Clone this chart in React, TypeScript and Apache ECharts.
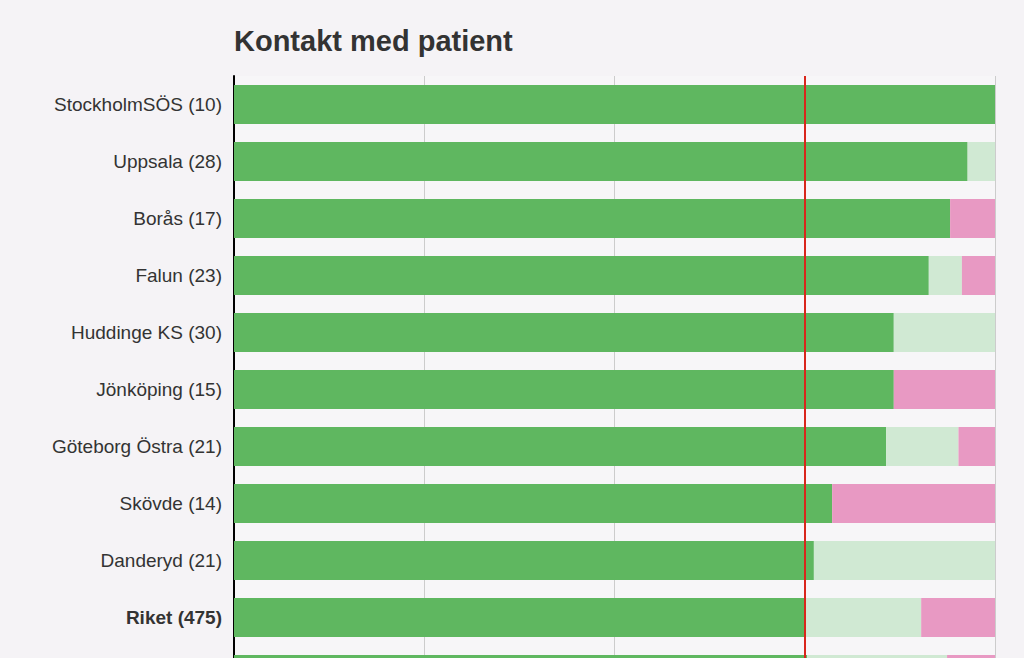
import React, { useEffect, useRef } from "react";
import * as echarts from "echarts";

const categories = [
  "StockholmSÖS (10)",
  "Uppsala (28)",
  "Borås (17)",
  "Falun (23)",
  "Huddinge KS (30)",
  "Jönköping (15)",
  "Göteborg Östra (21)",
  "Skövde (14)",
  "Danderyd (21)",
  "Riket (475)",
  "",
];
const greenValues = [100, 96.4, 94.1, 91.3, 86.7, 86.7, 85.7, 78.6, 76.2, 75.2, 75.3];
const lightValues = [0, 3.6, 0, 4.35, 13.3, 0, 9.5, 0, 23.8, 15.1, 18.4];
const pinkValues = [0, 0, 5.9, 4.35, 0, 13.3, 4.8, 21.4, 0, 9.7, 6.3];
const targetValue = 75;
const xTicks = [0, 25, 50, 75, 100];

const FONT = "'Liberation Sans', Arial, sans-serif";

export default function App() {
  const ref = useRef<HTMLDivElement>(null);
  useEffect(() => {
    if (!ref.current) return;
    const chart = echarts.init(ref.current, undefined, { renderer: "svg" });
    const barWidth = 39;
    chart.setOption({
      animation: false,
      backgroundColor: "#f5f3f6",
      title: {
        text: "Kontakt med patient",
        left: 229,
        top: 21,
        textStyle: { fontFamily: FONT, fontSize: 29, fontWeight: "bold", color: "#333333" },
      },
      grid: {
        left: 234,
        right: 29,
        top: 76,
        bottom: 57,
        show: true,
        backgroundColor: "#f7f6f8",
        borderWidth: 0,
      },
      xAxis: {
        type: "value",
        min: xTicks[0],
        max: xTicks[xTicks.length - 1],
        interval: 25,
        axisLine: { show: false },
        axisTick: { show: false },
        axisLabel: { show: false },
        splitLine: { show: true, lineStyle: { color: "#cccccc", width: 1 } },
      },
      yAxis: {
        type: "category",
        data: categories,
        inverse: true,
        axisLine: { show: true, lineStyle: { color: "#000000", width: 2 } },
        axisTick: { show: false },
        axisLabel: {
          margin: 12,
          fontFamily: FONT,
          fontSize: 19,
          color: "#333333",
          formatter: (v: string) => (v.startsWith("Riket") ? "{b|" + v + "}" : v),
          rich: { b: { fontFamily: FONT, fontSize: 19, fontWeight: "bold", color: "#333333" } },
        },
      },
      series: [
        {
          name: "Ja",
          type: "bar",
          stack: "s",
          barWidth,
          data: greenValues,
          itemStyle: { color: "#5fb760" },
          markLine: {
            silent: true,
            symbol: "none",
            label: { show: false },
            lineStyle: { color: "#d9261c", width: 2, type: "solid" },
            data: [{ xAxis: targetValue }],
          },
          z: 2,
        },
        {
          name: "Okänt",
          type: "bar",
          stack: "s",
          barWidth,
          data: lightValues,
          itemStyle: { color: "#d0e9d3" },
        },
        {
          name: "Nej",
          type: "bar",
          stack: "s",
          barWidth,
          data: pinkValues,
          itemStyle: { color: "#e899c3" },
        },
      ],
    });
    return () => chart.dispose();
  }, []);
  return (
    <div
      ref={ref}
      style={{ position: "fixed", left: 0, top: 0, width: 1024, height: 760 }}
    />
  );
}
